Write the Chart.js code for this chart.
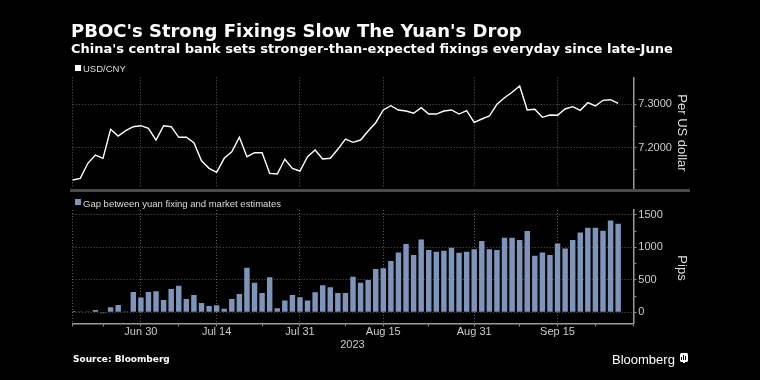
<!DOCTYPE html>
<html><head><meta charset="utf-8">
<script src="https://cdn.jsdelivr.net/npm/chart.js@4.4.0/dist/chart.umd.min.js"></script>
<style>
html,body{margin:0;padding:0;background:#000;}
#wrap{position:relative;width:760px;height:380px;background:#000;overflow:hidden;}
canvas{position:absolute;left:0;top:0;}
.t{position:absolute;white-space:nowrap;line-height:1;}
.sq{position:absolute;}
.rot{position:absolute;white-space:nowrap;line-height:1;transform:translate(-50%,-50%) rotate(90deg);font:13px "Liberation Sans";color:#ddd;}
</style></head><body>
<div id="wrap">
  <canvas id="c1" width="760" height="380"></canvas>
  <canvas id="c2" width="760" height="380"></canvas>
  <div class="t" style="left:71px;top:20px;font:bold 18px 'DejaVu Sans';color:#fff;">PBOC's Strong Fixings Slow The Yuan's Drop</div>
  <div class="t" style="left:71px;top:40.5px;font:bold 13px 'DejaVu Sans';color:#fff;">China's central bank sets stronger-than-expected fixings everyday since late-June</div>
  <div class="sq" style="left:75px;top:64.5px;width:6px;height:6px;background:#fff;"></div>
  <div class="t" style="left:83px;top:63px;font:9.5px 'Liberation Sans';color:#ddd;">USD/CNY</div>
  <div class="sq" style="left:70px;top:189.3px;width:620px;height:2.7px;background:#4a4a4a;"></div>
  <div class="sq" style="left:75px;top:198.8px;width:6px;height:6px;background:#7d95bb;"></div>
  <div class="t" style="left:83px;top:197.6px;font:9.5px 'Liberation Sans';color:#ddd;">Gap between yuan fixing and market estimates</div>
  <div class="rot" style="left:682px;top:132.5px;">Per US dollar</div>
  <div class="rot" style="left:682px;top:268px;">Pips</div>
  <div class="t" style="left:352.4px;top:338px;font:11px 'Liberation Sans';color:#ccc;transform:translateX(-50%);">2023</div>
  <div class="t" style="left:73px;top:353.7px;font:bold 9px 'DejaVu Sans';color:#fff;">Source: Bloomberg</div>
  <div class="t" style="left:612px;top:352px;font:13px 'Liberation Sans';color:#fff;">Bloomberg</div>
  <div class="sq" style="left:679.5px;top:353px;width:8px;height:8.5px;background:#fff;border-radius:1.5px;"></div>
  <div class="sq" style="left:681px;top:357px;width:1.2px;height:3px;background:#000;"></div>
  <div class="sq" style="left:683px;top:355px;width:1.2px;height:5px;background:#000;"></div>
  <div class="sq" style="left:685px;top:356px;width:1.2px;height:4px;background:#000;"></div>
  <div class="sq" style="left:682.5px;top:361.5px;width:2px;height:1.5px;background:#fff;"></div>
</div>
<script>
// ---- data ----
const dates = [
  "Jun 19","Jun 20","Jun 21","Jun 22","Jun 23","Jun 26","Jun 27","Jun 28","Jun 29","Jun 30",
  "Jul 3","Jul 4","Jul 5","Jul 6","Jul 7","Jul 10","Jul 11","Jul 12","Jul 13","Jul 14",
  "Jul 17","Jul 18","Jul 19","Jul 20","Jul 21","Jul 24","Jul 25","Jul 26","Jul 27","Jul 28",
  "Jul 31","Aug 1","Aug 2","Aug 3","Aug 4","Aug 7","Aug 8","Aug 9","Aug 10","Aug 11",
  "Aug 14","Aug 15","Aug 16","Aug 17","Aug 18","Aug 21","Aug 22","Aug 23","Aug 24","Aug 25",
  "Aug 28","Aug 29","Aug 30","Aug 31","Sep 1","Sep 4","Sep 5","Sep 6","Sep 7","Sep 8",
  "Sep 11","Sep 12","Sep 13","Sep 14","Sep 15","Sep 18","Sep 19","Sep 20","Sep 21","Sep 22",
  "Sep 25","Sep 26","Sep 27","Sep 28","Sep 29"
];
const usdCny = [
  7.1256,7.1295,7.1641,7.1832,7.1756,7.2424,7.2270,7.2392,7.2484,7.2507,
  7.2447,7.2177,7.2507,7.2484,7.2240,7.2240,7.2115,7.1700,7.1525,7.1433,
  7.1756,7.1908,7.2240,7.1793,7.1885,7.1885,7.1410,7.1394,7.1733,7.1525,
  7.1463,7.1793,7.1947,7.1740,7.1756,7.1963,7.2200,7.2124,7.2177,7.2385,
  7.2576,7.2869,7.2968,7.2869,7.2846,7.2793,7.2922,7.2776,7.2776,7.2846,
  7.2869,7.2776,7.2853,7.2585,7.2661,7.2730,7.3000,7.3152,7.3276,7.3422,
  7.2869,7.2885,7.2700,7.2753,7.2747,7.2892,7.2945,7.2862,7.3037,7.2961,
  7.3092,7.3106,7.3023
];
const gapPips = [
  20,5,5,36,-15,77,113,3,313,226,
  313,323,190,359,410,205,267,144,97,108,
  56,205,282,687,457,298,539,62,180,267,
  231,180,308,416,385,298,298,549,457,498,
  667,677,790,923,1052,882,1123,959,934,949,
  995,918,934,970,1098,970,959,1149,1149,1113,
  1252,872,923,882,1062,985,1113,1231,1303,1303,
  1257,1416,1365
];
const majorDateLabels = ["Jun 30","Jul 14","Jul 31","Aug 15","Aug 31","Sep 15"];
const minorDateTicks = ["Jun 19","Jun 23","Jul 7","Jul 24","Aug 8","Aug 23","Sep 8","Sep 22","Sep 29"];
const usdTicks = [7.15, 7.2, 7.25, 7.3];
const usdTickLabels = ["", "7.2000", "", "7.3000"];
const pipsTicks = [0, 250, 500, 750, 1000, 1250, 1500];
const pipsTickLabels = ["0", "", "500", "", "1000", "", "1500"];

// ---- helpers ----
const xTickIdx = dates.map((d, i) => (majorDateLabels.includes(d) || minorDateTicks.includes(d)) ? i : -1).filter(i => i >= 0);
const isMajorX = (i) => majorDateLabels.includes(dates[i]) || i === 0;
const GRID = '#5c5c5c';
const AXIS = '#9a9a9a';
const TICKFONT = { family: 'Liberation Sans', size: 11 };
const PLOT_LEFT = 72.7, PLOT_RIGHT = 633.3;

function xScale(showLabels, boxHeight) {
  return {
    type: 'category', offset: false,
    afterFit: s => { s.height = boxHeight; },
    afterBuildTicks: s => { s.ticks = xTickIdx.map(v => ({ value: v })); },
    ticks: {
      display: showLabels, autoSkip: false, maxRotation: 0, minRotation: 0,
      color: '#ccc', font: TICKFONT, padding: -1,
      callback: (v) => majorDateLabels.includes(dates[v]) ? dates[v] : ''
    },
    grid: {
      offset: false, drawTicks: showLabels, tickLength: 3, tickColor: AXIS, tickWidth: 1,
      color: (ctx) => (ctx.tick && isMajorX(ctx.tick.value)) ? GRID : 'rgba(0,0,0,0)',
      lineWidth: 1
    },
    border: { display: showLabels, color: AXIS, width: 1.5, dash: [1, 2] }
  };
}

function yScale(min, max, tickVals, labels) {
  return {
    position: 'right', min: min, max: max,
    afterFit: s => { s.width = 760 - PLOT_RIGHT; },
    afterBuildTicks: s => { s.ticks = tickVals.map(v => ({ value: v })); },
    ticks: {
      color: '#ccc', font: TICKFONT, padding: 2, autoSkip: false,
      callback: (v) => { const k = tickVals.indexOf(v); return k >= 0 ? labels[k] : ''; }
    },
    grid: {
      drawTicks: true, tickLength: 3, tickColor: AXIS, tickWidth: 1,
      color: (ctx) => { const k = tickVals.indexOf(ctx.tick ? ctx.tick.value : NaN); return (k >= 0 && labels[k] !== '') ? GRID : 'rgba(0,0,0,0)'; }
    },
    border: { display: true, color: AXIS, width: 1.5, dash: [1, 2] }
  };
}

Chart.defaults.font.family = 'Liberation Sans';

new Chart(document.getElementById('c1'), {
  type: 'line',
  data: { labels: dates, datasets: [{ data: usdCny, borderColor: '#ffffff', borderWidth: 1.4, pointRadius: 0, tension: 0, fill: false }] },
  options: {
    responsive: false, animation: false, events: [],
    layout: { padding: { left: PLOT_LEFT, right: 0, top: 77.3, bottom: 380 - 188.3 } },
    plugins: { legend: { display: false }, tooltip: { enabled: false } },
    scales: { x: xScale(false, 0), y: yScale(7.1065, 7.3622, usdTicks, usdTickLabels) }
  }
});

new Chart(document.getElementById('c2'), {
  type: 'bar',
  data: { labels: dates, datasets: [{ data: gapPips, backgroundColor: '#7d95bb', borderWidth: 0, barPercentage: 0.72, categoryPercentage: 1.0 }] },
  options: {
    responsive: false, animation: false, events: [],
    layout: { padding: { left: PLOT_LEFT, right: 0, top: 210, bottom: 0 } },
    plugins: { legend: { display: false }, tooltip: { enabled: false } },
    scales: { x: xScale(true, 380 - 323.3), y: yScale(-170, 1577, pipsTicks, pipsTickLabels) }
  }
});
</script>
</body></html>
